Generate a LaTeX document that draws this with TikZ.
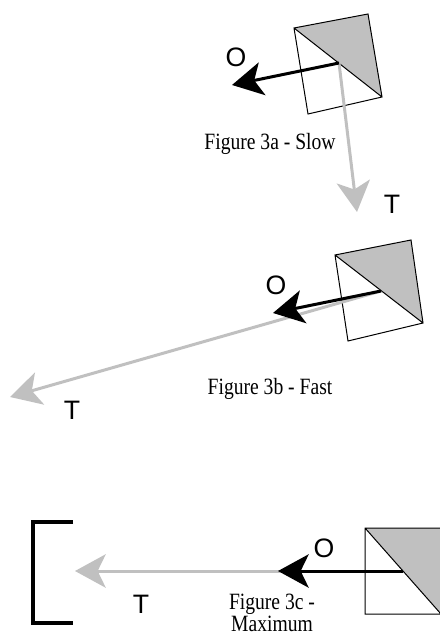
\documentclass[tikz,border=0pt]{standalone}
\usepackage{fontspec}
\setmainfont{Liberation Serif}
\newfontfamily\etiquetafont{Liberation Sans}
\newfontfamily\leyendafont[FakeStretch=0.84]{Liberation Serif}
\usetikzlibrary{arrows.meta}
\usepackage{xcolor}
\definecolor{grisclaro}{RGB}{192,192,192}
\tikzset{
  cara/.style={draw=black, line width=0.75pt, line join=miter},
  sombra/.style={fill=grisclaro},
  corchete/.style={draw=black, line width=3.5pt},
  flecha/.style={-{Stealth[length=23pt, width=25pt, inset=6pt]},
                 line width=2.25pt}
}

\begin{document}
\begin{tikzpicture}[
  x=0.75pt, y=-0.75pt,
  rayoO/.style={flecha, draw=black},
  rayoT/.style={flecha, draw=grisclaro},
  etiqueta/.style={font=\etiquetafont\fontsize{20pt}{22pt}\selectfont,
                   inner sep=0pt},
  leyenda/.style={font=\leyendafont\fontsize{17.5pt}{16.5pt}\selectfont,
                  inner sep=0pt, anchor=base, align=center}
]
  \useasboundingbox (0,0) rectangle (439,634);

  % ── Figura 3a (lenta) ──
  \coordinate (a1) at (294,28);  \coordinate (a2) at (368,14);
  \coordinate (a3) at (382,97);  \coordinate (a4) at (308,114);
  \coordinate (oA) at (339,63);
  \coordinate (pA) at (232,85);  \coordinate (tA) at (357,212);
  \fill[sombra] (a1) -- (a2) -- (a3) -- cycle;
  \draw[cara] (a1) -- (a2) -- (a3) -- (a4) -- cycle (a1) -- (a3);
  \draw[rayoT] (oA) -- (tA);
  \draw[rayoO] (oA) -- (pA);
  \node[etiqueta] (labOA) at (236,57)  {O};
  \node[etiqueta] (labTA) at (392,204) {T};
  \node[leyenda]  (leyA)  at (270,150) {Figure 3a - Slow};

  % ── Figura 3b (rápida) ──
  \coordinate (b1) at (335,255); \coordinate (b2) at (411,240);
  \coordinate (b3) at (423,323); \coordinate (b4) at (348,341);
  \coordinate (oB) at (381,291);
  \coordinate (pB) at (273,313); \coordinate (tB) at (10,397);
  \fill[sombra] (b1) -- (b2) -- (b3) -- cycle;
  \draw[cara] (b1) -- (b2) -- (b3) -- (b4) -- cycle (b1) -- (b3);
  \draw[rayoT] (oB) -- (tB);
  \draw[rayoO] (oB) -- (pB);
  \node[etiqueta] (labOB) at (276,285) {O};
  \node[etiqueta] (labTB) at (72,410)  {T};
  \node[leyenda]  (leyB)  at (270,394) {Figure 3b - Fast};

  % ── Figura 3c (máxima) ──
  \coordinate (c1) at (365,528); \coordinate (c2) at (441,528);
  \coordinate (c3) at (441,614); \coordinate (c4) at (365,614);
  \coordinate (oC) at (403,571);
  \coordinate (pC) at (278,571); \coordinate (tC) at (75,571);
  \fill[sombra] (c1) -- (c2) -- (c3) -- cycle;
  \draw[cara] (c1) -- (c2) -- (c3) -- (c4) -- cycle (c1) -- (c3);
  \draw[corchete] (73,522) -- (33,522) -- (33,623) -- (73,623);
  \draw[rayoT] (oC) -- (tC);
  \draw[rayoO] (oC) -- (pC);
  \node[etiqueta] (labOC) at (324,548) {O};
  \node[etiqueta] (labTC) at (141,604) {T};
  \node[leyenda]  (leyC)  at (272,631) {Figure 3c -\\Maximum};
\end{tikzpicture}
\end{document}
